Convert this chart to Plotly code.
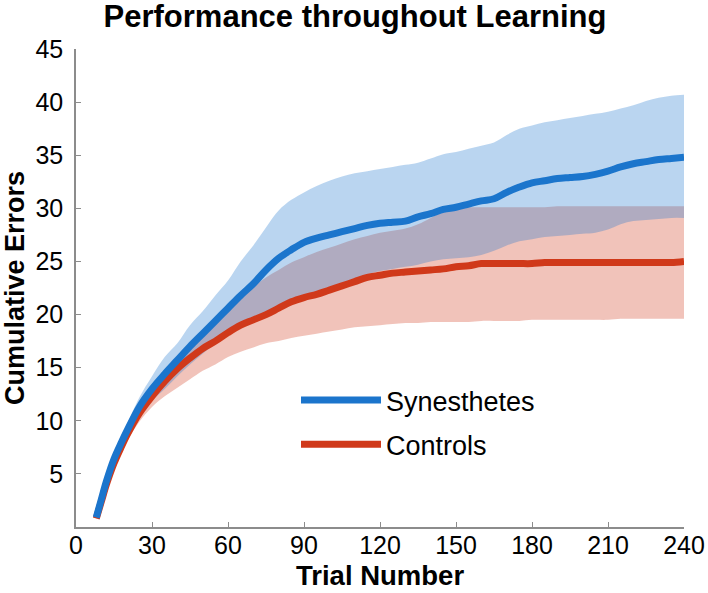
import plotly.graph_objects as go

trials = [8, 10, 12, 15, 18, 20, 25, 30, 35, 40, 45, 50, 55, 60, 65, 70, 75, 80, 85, 90,
          95, 100, 105, 110, 115, 120, 125, 130, 135, 140, 145, 150, 155, 160, 165, 170,
          175, 180, 185, 190, 195, 200, 205, 210, 215, 220, 225, 230, 235, 240]

syn_mean = [0.9, 2.6, 4.3, 6.4, 8.0, 9.0, 11.3, 13.0, 14.4, 15.7, 17.0, 18.2, 19.4, 20.6,
            21.8, 22.9, 24.2, 25.3, 26.1, 26.8, 27.2, 27.5, 27.8, 28.1, 28.4, 28.6, 28.7,
            28.8, 29.2, 29.5, 29.9, 30.1, 30.4, 30.7, 30.9, 31.5, 32.0, 32.4, 32.6, 32.8,
            32.9, 33.0, 33.2, 33.5, 33.9, 34.2, 34.4, 34.6, 34.7, 34.8]
syn_upper = [1.0, 2.8, 4.6, 6.8, 8.5, 9.6, 12.2, 14.2, 16.0, 17.3, 19.0, 20.3, 21.8, 23.2,
             25.0, 26.5, 28.2, 29.8, 30.8, 31.5, 32.1, 32.6, 33.0, 33.3, 33.5, 33.7, 33.9,
             34.1, 34.3, 34.7, 35.1, 35.3, 35.6, 35.9, 36.2, 36.9, 37.5, 37.8, 38.1, 38.3,
             38.5, 38.7, 38.9, 39.1, 39.4, 39.7, 40.1, 40.4, 40.6, 40.7]
syn_lower = [0.8, 2.4, 4.0, 6.0, 7.6, 8.5, 10.5, 11.9, 13.0, 14.2, 15.3, 16.3, 17.3, 18.2,
             19.0, 19.6, 20.2, 20.8, 21.3, 21.8, 22.2, 22.6, 23.0, 23.4, 23.8, 24.1, 24.3,
             24.5, 24.7, 25.0, 25.2, 25.3, 25.4, 25.6, 26.0, 26.5, 26.9, 27.1, 27.3, 27.4,
             27.5, 27.6, 27.7, 28.0, 28.5, 28.8, 28.9, 29.0, 29.1, 29.1]

ctl_mean = [0.8, 2.4, 4.0, 6.0, 7.6, 8.6, 10.7, 12.3, 13.7, 14.9, 15.9, 16.8, 17.5, 18.3,
            19.0, 19.5, 20.0, 20.6, 21.2, 21.6, 21.9, 22.3, 22.7, 23.1, 23.5, 23.7, 23.9,
            24.0, 24.1, 24.2, 24.3, 24.5, 24.6, 24.8, 24.8, 24.8, 24.8, 24.8, 24.9, 24.9,
            24.9, 24.9, 24.9, 24.9, 24.9, 24.9, 24.9, 24.9, 24.9, 25.0]
ctl_upper = [0.9, 2.6, 4.3, 6.4, 8.0, 9.0, 11.2, 13.0, 14.5, 15.9, 17.1, 18.2, 19.4, 20.5,
             21.6, 22.6, 23.5, 24.2, 24.9, 25.4, 25.9, 26.3, 26.7, 27.1, 27.4, 27.7, 27.9,
             28.1, 28.5, 29.1, 29.7, 30.0, 30.1, 30.1, 30.1, 30.1, 30.1, 30.1, 30.1, 30.2,
             30.2, 30.2, 30.2, 30.2, 30.2, 30.2, 30.2, 30.2, 30.2, 30.2]
ctl_lower = [0.7, 2.2, 3.7, 5.6, 7.1, 8.0, 9.9, 11.3, 12.3, 13.1, 13.9, 14.7, 15.3, 16.0,
             16.5, 16.9, 17.3, 17.5, 17.8, 18.0, 18.2, 18.4, 18.6, 18.8, 18.9, 19.0, 19.1,
             19.2, 19.2, 19.3, 19.3, 19.3, 19.3, 19.4, 19.4, 19.4, 19.4, 19.5, 19.5, 19.5,
             19.5, 19.5, 19.5, 19.5, 19.6, 19.6, 19.6, 19.6, 19.6, 19.6]

x_ticks = [0, 30, 60, 90, 120, 150, 180, 210, 240]
y_ticks = [5, 10, 15, 20, 25, 30, 35, 40, 45]

BLUE = "#1B75CC"
RED = "#D0391A"
BLUE_FILL = "rgba(27,117,204,0.3)"
RED_FILL = "rgba(208,57,26,0.3)"
FONT = "Liberation Sans, Arial, sans-serif"

fig = go.Figure()
# control band
fig.add_trace(go.Scatter(x=trials, y=ctl_lower, mode="lines", line=dict(width=0, shape="spline"),
                         showlegend=False, hoverinfo="skip"))
fig.add_trace(go.Scatter(x=trials, y=ctl_upper, mode="lines", line=dict(width=0, shape="spline"),
                         fill="tonexty", fillcolor=RED_FILL, showlegend=False, hoverinfo="skip"))
# synesthete band
fig.add_trace(go.Scatter(x=trials, y=syn_lower, mode="lines", line=dict(width=0, shape="spline"),
                         showlegend=False, hoverinfo="skip"))
fig.add_trace(go.Scatter(x=trials, y=syn_upper, mode="lines", line=dict(width=0, shape="spline"),
                         fill="tonexty", fillcolor=BLUE_FILL, showlegend=False, hoverinfo="skip"))
# mean lines
fig.add_trace(go.Scatter(x=trials, y=ctl_mean, mode="lines", name="Controls",
                         line=dict(color=RED, width=7, shape="spline"), legendgroup="b", legendrank=2))
fig.add_trace(go.Scatter(x=trials, y=syn_mean, mode="lines", name="Synesthetes",
                         line=dict(color=BLUE, width=7, shape="spline"), legendgroup="a", legendrank=1))

axis_common = dict(
    showline=True, linecolor="#8c8c8c", linewidth=1.5,
    ticks="inside", ticklen=5, tickcolor="#8c8c8c", tickwidth=1,
    showgrid=False, zeroline=False, mirror=False, automargin=False,
    tickfont=dict(family=FONT, size=25, color="black"),
)

fig.update_layout(
    width=708, height=593,
    margin=dict(l=76, r=24, t=49, b=66, autoexpand=False),
    paper_bgcolor="white", plot_bgcolor="white",
    title=dict(text="<b>Performance throughout Learning</b>", x=355 / 708, xref="container",
               y=1 - 16 / 593, yref="container", xanchor="center", yanchor="middle",
               font=dict(family=FONT, size=31, color="black")),
    xaxis=dict(range=[0, 240], tickvals=x_ticks, ticktext=[str(v) for v in x_ticks],
               ticklabelstandoff=-5,
               **axis_common),
    yaxis=dict(range=[0, 45], tickvals=y_ticks, ticktext=[str(v) for v in y_ticks],
               ticklabelstandoff=6,
               title=dict(text="<b>Cumulative Errors</b>", font=dict(family=FONT, size=27, color="black"),
                          standoff=6),
               **axis_common),
    legend=dict(x=(296 - 76) / 608, y=(527 - 376) / 478, xanchor="left", yanchor="top",
                bgcolor="rgba(0,0,0,0)", font=dict(family=FONT, size=27, color="black"),
                itemwidth=80, tracegroupgap=6, traceorder="grouped"),
    annotations=[dict(text="<b>Trial Number</b>", xref="paper", yref="paper",
                      x=0.5, y=(527 - 575) / 478, xanchor="center", yanchor="middle",
                      showarrow=False, font=dict(family=FONT, size=27.5, color="black"))],
)

fig.write_html("out.html", config={"displayModeBar": False},
               post_script="document.body.style.margin='0';document.body.style.overflow='hidden';")
